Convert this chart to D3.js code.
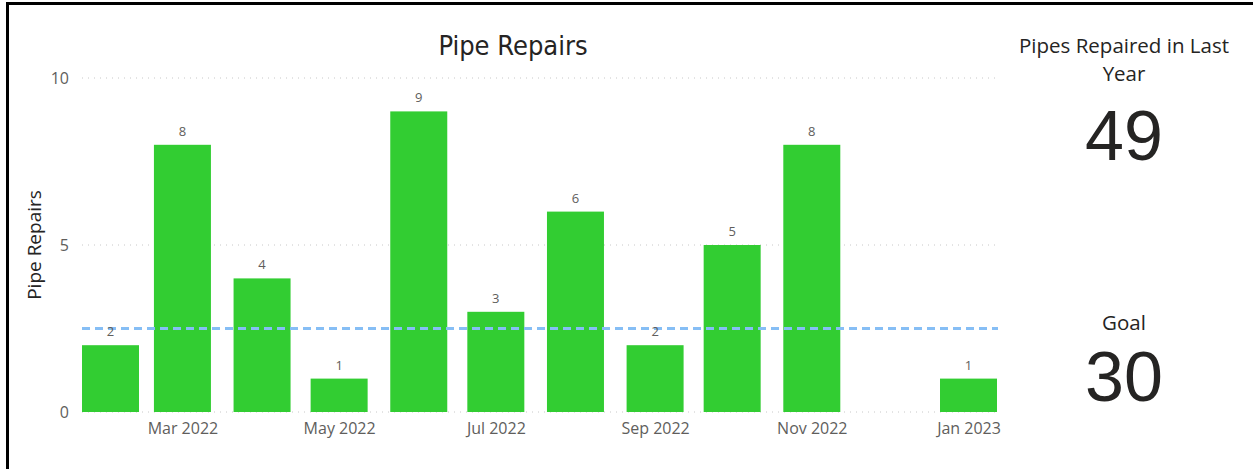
<!DOCTYPE html>
<html>
<head>
<meta charset="utf-8">
<script src="https://cdn.jsdelivr.net/npm/d3@7/dist/d3.min.js"></script>
<style>
  html, body { margin: 0; padding: 0; background: #fff; }
  svg { display: block; }
</style>
</head>
<body>
<svg id="chart" width="1255" height="469"></svg>
<script>
// ---- data ----
const months = ["2022-02","2022-03","2022-04","2022-05","2022-06","2022-07","2022-08","2022-09","2022-10","2022-11","2023-01"];
const repairs = [2, 8, 4, 1, 9, 3, 6, 2, 5, 8, 1];
const yTicks = [0, 5, 10];
const xTickLabels = ["2022-03","2022-05","2022-07","2022-09","2022-11","2023-01"];
const goalTotal = 30;
const goalMonthly = 2.5;
const totalRepairs = 49;

const parse = d3.timeParse("%Y-%m");
const fmt = d3.timeFormat("%b %Y");

const svg = d3.select("#chart");
const font = "'Open Sans', 'Noto Sans', sans-serif";

// border (left & top)
svg.append("rect").attr("x", 6).attr("y", 2).attr("width", 3).attr("height", 467).attr("fill", "#000");
svg.append("rect").attr("x", 6).attr("y", 2).attr("width", 1247).attr("height", 3).attr("fill", "#000");

// scales
const x = d3.scaleTime()
  .domain([parse("2022-02"), parse("2023-01")])
  .range([110.5, 968.5]);
const y = d3.scaleLinear().domain([0, 10]).range([412, 78]);
const barW = 57;
const plotL = 82, plotR = 995;

// gridlines
svg.append("g").selectAll("line").data(yTicks).join("line")
  .attr("x1", plotL).attr("x2", plotR)
  .attr("y1", d => y(d)).attr("y2", d => y(d))
  .attr("stroke", "#c8c8c8").attr("stroke-width", 1)
  .attr("stroke-dasharray", "1,5");

// y axis labels
const yAxis = svg.append("g").attr("transform", `translate(${plotL - 10},0)`)
  .call(d3.axisLeft(y).tickValues(yTicks).tickSize(0).tickFormat(d3.format("d")));
yAxis.select(".domain").remove();
yAxis.selectAll("text").attr("font-family", font).attr("font-size", 16).attr("fill", "#605E5C").attr("dx", 0);

// x axis labels
const xAxis = svg.append("g").attr("transform", `translate(0,${y(0) + 8})`)
  .call(d3.axisBottom(x).tickValues(xTickLabels.map(parse)).tickSize(0).tickFormat(fmt));
xAxis.select(".domain").remove();
xAxis.selectAll("text").attr("font-family", font).attr("font-size", 16).attr("fill", "#605E5C");

// bars
const data = months.map((m, i) => ({ date: parse(m), v: repairs[i] }));
svg.append("g").selectAll("rect").data(data).join("rect")
  .attr("x", d => x(d.date) - barW / 2)
  .attr("y", d => y(d.v))
  .attr("width", barW)
  .attr("height", d => y(0) - y(d.v))
  .attr("fill", "#32CD32");

// goal line
svg.append("line")
  .attr("x1", plotL).attr("x2", 998)
  .attr("y1", y(goalMonthly)).attr("y2", y(goalMonthly))
  .attr("stroke", "#86BEF5").attr("stroke-width", 3)
  .attr("stroke-dasharray", "8,5");

// data labels
svg.append("g").selectAll("text").data(data).join("text")
  .attr("x", d => x(d.date))
  .attr("y", d => y(d.v) - 9)
  .attr("text-anchor", "middle")
  .attr("font-family", font).attr("font-size", 13).attr("fill", "#605E5C")
  .text(d => d.v);

// title
svg.append("text").attr("x", 513).attr("y", 55).attr("text-anchor", "middle")
  .attr("font-family", "'DejaVu Sans Condensed', 'DejaVu Sans', sans-serif").attr("font-size", 27).attr("fill", "#252423")
  .text("Pipe Repairs");

// y axis title
svg.append("text").attr("transform", "translate(41,245) rotate(-90)").attr("text-anchor", "middle")
  .attr("font-family", font).attr("font-size", 19).attr("fill", "#252423")
  .text("Pipe Repairs");

// cards
const cx = 1124;
svg.append("text").attr("x", cx).attr("y", 53).attr("text-anchor", "middle")
  .attr("font-family", font).attr("font-size", 20.5).attr("fill", "#252423").text("Pipes Repaired in Last");
svg.append("text").attr("x", cx).attr("y", 81).attr("text-anchor", "middle")
  .attr("font-family", font).attr("font-size", 20.5).attr("fill", "#252423").text("Year");
svg.append("text").attr("x", cx).attr("y", 160).attr("text-anchor", "middle")
  .attr("font-family", "'Liberation Sans', Arial, sans-serif").attr("font-size", 70).attr("fill", "#252423").text(totalRepairs);
svg.append("text").attr("x", cx).attr("y", 330).attr("text-anchor", "middle")
  .attr("font-family", font).attr("font-size", 20.5).attr("fill", "#252423").text("Goal");
svg.append("text").attr("x", cx).attr("y", 401).attr("text-anchor", "middle")
  .attr("font-family", "'Liberation Sans', Arial, sans-serif").attr("font-size", 70).attr("fill", "#252423").text(goalTotal);
</script>
</body>
</html>
